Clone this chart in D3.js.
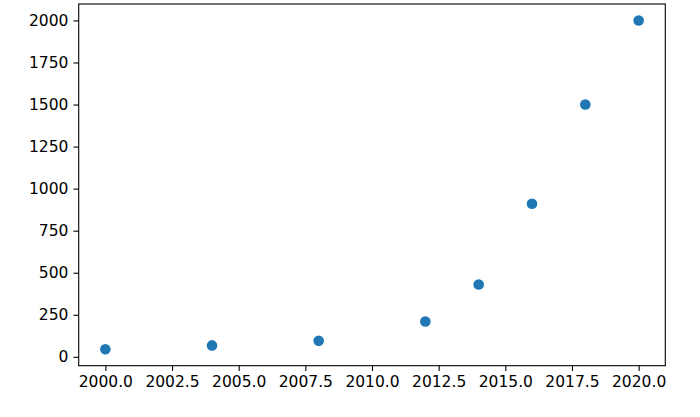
<!DOCTYPE html>
<html>
<head>
<meta charset="utf-8">
<script src="https://cdn.jsdelivr.net/npm/d3@7"></script>
<style>
  html, body { margin: 0; padding: 0; background: #fff; }
  svg { display: block; }
  .axis text { font-family: "DejaVu Sans", sans-serif; font-size: 15.5px; fill: #000; }
  .axis path, .axis line { stroke: #000; stroke-width: 1.1px; }
</style>
</head>
<body>
<svg id="chart" width="700" height="417"></svg>
<script>
const years = [2000, 2004, 2008, 2012, 2014, 2016, 2018, 2020];
const values = [45, 68, 95, 210, 430, 910, 1500, 2000];
const xTicks = [2000, 2002.5, 2005, 2007.5, 2010, 2012.5, 2015, 2017.5, 2020];
const yTicks = [0, 250, 500, 750, 1000, 1250, 1500, 1750, 2000];

const W = 700, H = 417;
const margin = { left: 78.7, right: 34.7, top: 4, bottom: 51.3 };
const svg = d3.select("#chart");

function padded(ext) {
  const span = ext[1] - ext[0];
  return [ext[0] - span * 0.05, ext[1] + span * 0.05];
}

const x = d3.scaleLinear()
  .domain(padded(d3.extent(years)))
  .range([margin.left, W - margin.right]);
const y = d3.scaleLinear()
  .domain(padded(d3.extent(values)))
  .range([H - margin.bottom, margin.top]);

// frame
svg.append("rect")
  .attr("x", margin.left).attr("y", margin.top)
  .attr("width", W - margin.right - margin.left)
  .attr("height", H - margin.bottom - margin.top)
  .attr("fill", "none").attr("stroke", "#000").attr("stroke-width", 1.1);

svg.append("g").attr("class", "axis")
  .attr("transform", `translate(0,${H - margin.bottom})`)
  .call(d3.axisBottom(x).tickValues(xTicks).tickFormat(d3.format(".1f")).tickSize(5.3).tickPadding(5.5))
  .call(g => g.select(".domain").remove());

svg.append("g").attr("class", "axis")
  .attr("transform", `translate(${margin.left},0)`)
  .call(d3.axisLeft(y).tickValues(yTicks).tickFormat(d3.format("d")).tickSize(5.3).tickPadding(5))
  .call(g => g.select(".domain").remove());

svg.append("g").selectAll("circle")
  .data(years.map((yr, i) => ({ yr, v: values[i] })))
  .join("circle")
  .attr("cx", d => x(d.yr))
  .attr("cy", d => y(d.v))
  .attr("r", 5.3)
  .attr("fill", "#1f77b4");
</script>
</body>
</html>
